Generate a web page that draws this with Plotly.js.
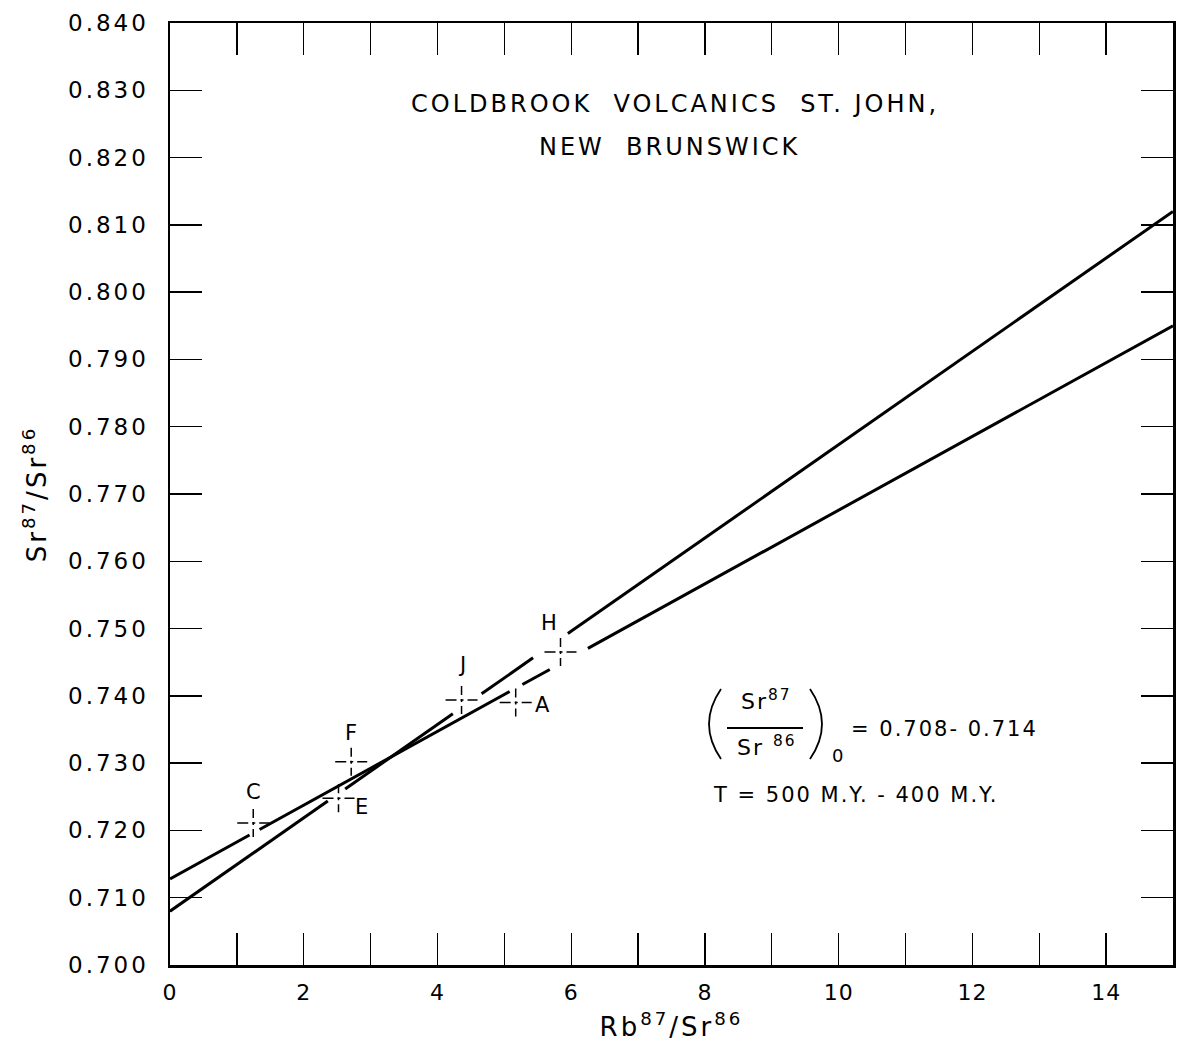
<!DOCTYPE html>
<html>
<head>
<meta charset="utf-8">
<script src="https://cdn.plot.ly/plotly-3.0.1.min.js"></script>
<style>
html,body{margin:0;padding:0;background:#fff;}
#chart{width:1180px;height:1049px;}
.ytick text{letter-spacing:3px;}
.xtick text{letter-spacing:1px;}
</style>
</head>
<body>
<div id="chart"></div>
<script>
// ---- data ----
const sampleNames = ['C', 'E', 'F', 'J', 'A', 'H'];
const rbSr = [1.245, 2.52, 2.71, 4.36, 5.17, 5.84];
const srSr = [0.7211, 0.7248, 0.7302, 0.7394, 0.7390, 0.7465];

// isochron lines (end points at x = 0 and x = 15)
const fitX = [0, 15];
const fitSteep = [0.708, 0.812];     // 500 M.Y., initial 0.708
const fitShallow = [0.7128, 0.795];  // 400 M.Y., initial ~0.713
// drafting breaks in the lines around the plotted crosses (x ranges)
const steepGaps = [[2.36, 2.62], [4.23, 4.66], [5.43, 5.95]];
const shallowGaps = [[1.19, 1.34], [5.08, 5.27], [5.68, 6.25]];

const xTickVals = [0, 2, 4, 6, 8, 10, 12, 14];
const xTickText = ['0', '2', '4', '6', '8', '10', '12', '14'];
const yTickVals = [0.700, 0.710, 0.720, 0.730, 0.740, 0.750, 0.760, 0.770, 0.780, 0.790, 0.800, 0.810, 0.820, 0.830, 0.840];
const yTickText = ['0.700', '0.710', '0.720', '0.730', '0.740', '0.750', '0.760', '0.770', '0.780', '0.790', '0.800', '0.810', '0.820', '0.830', '0.840'];

// ---- styling / geometry ----
const W = 1180, H = 1049;
const M = {l: 170, r: 7, t: 23, b: 84};
const PW = W - M.l - M.r, PH = H - M.t - M.b;
const xRange = [0, 15], yRange = [0.700, 0.840];
const xPerPx = (xRange[1] - xRange[0]) / PW;
const yPerPx = (yRange[1] - yRange[0]) / PH;
const px = (x) => (x - M.l) / PW;             // page pixel -> paper x
const py = (y) => (H - M.b - y) / PH;         // page pixel -> paper y

const labelDx = [0, 23, 0, 0, 27, -12];
const labelDy = [31, -9, 29, 35, -2, 29];
const FONT = '"DejaVu Sans", "Liberation Sans", sans-serif';

function brokenLine(ends, gaps) {
  const f = (x) => ends[0] + (ends[1] - ends[0]) * (x - fitX[0]) / (fitX[1] - fitX[0]);
  const xs = [], ys = [];
  let start = fitX[0];
  gaps.forEach(g => {
    xs.push(start, g[0], null); ys.push(f(start), f(g[0]), null);
    start = g[1];
  });
  xs.push(start, fitX[1]); ys.push(f(start), f(fitX[1]));
  return {x: xs, y: ys};
}

const steep = brokenLine(fitSteep, steepGaps);
const shallow = brokenLine(fitShallow, shallowGaps);

// cross arms
const hx = 16 * xPerPx, hy = 14 * yPerPx;
const hArmX = [], hArmY = [], vArmX = [], vArmY = [];
rbSr.forEach((x, i) => {
  const y = srSr[i];
  hArmX.push(x - hx, x + hx, null); hArmY.push(y, y, null);
  vArmX.push(x, x, null); vArmY.push(y + hy, y - hy, null);
});

const traces = [
  {x: steep.x, y: steep.y, mode: 'lines', line: {color: '#000', width: 3}, hoverinfo: 'skip', name: '500 M.Y.'},
  {x: shallow.x, y: shallow.y, mode: 'lines', line: {color: '#000', width: 3}, hoverinfo: 'skip', name: '400 M.Y.'},
  {x: hArmX, y: hArmY, mode: 'lines', line: {color: '#000', width: 1.5, dash: '11px,4px,3px,4px,11px'}, hoverinfo: 'skip'},
  {x: vArmX, y: vArmY, mode: 'lines', line: {color: '#000', width: 1.5, dash: '9px,4px,3px,4px,9px'}, hoverinfo: 'skip'},
  {x: rbSr, y: srSr, mode: 'markers', marker: {size: 1, color: 'rgba(0,0,0,0)'}, text: sampleNames, hoverinfo: 'text+x+y'}
];

const annotations = sampleNames.map((n, i) => ({
  x: rbSr[i], y: srSr[i], xref: 'x', yref: 'y', text: n, showarrow: false,
  xanchor: 'center', yanchor: 'middle',
  xshift: labelDx[i], yshift: labelDy[i], font: {family: FONT, size: 21, color: '#000'}
}));

const titleFont = {family: FONT, size: 24, color: '#000'};
const fF = {family: FONT, size: 22, color: '#000'};
function note(x, y, text, font, xa) {
  return {xref: 'paper', yref: 'paper', x: px(x), y: py(y), xanchor: xa || 'center', yanchor: 'middle',
          showarrow: false, font: font, text: text};
}
annotations.push(
  note(675, 104, '<span style="letter-spacing:3px">COLDBROOK  VOLCANICS  ST. JOHN,</span>', titleFont),
  note(669, 147, '<span style="letter-spacing:3px">NEW  BRUNSWICK</span>', titleFont),
  note(766, 700, '<span style="letter-spacing:2px">Sr<sup>87</sup></span>', fF),
  note(767, 746, '<span style="letter-spacing:2px">Sr <sup>86</sup></span>', fF),
  note(837, 756, '0', {family: FONT, size: 18, color: '#000'}),
  note(849, 729, '<span style="letter-spacing:2px">= 0.708- 0.714</span>', {family: FONT, size: 21, color: '#000'}, 'left'),
  note(711, 795, '<span style="letter-spacing:2px">T = 500 M.Y. - 400 M.Y.</span>', {family: FONT, size: 21, color: '#000'}, 'left')
);

const P = (a, b) => px(a) + ' ' + py(b);
const shapes = [
  {type: 'path', xref: 'paper', yref: 'paper', path: 'M ' + P(721, 689) + ' Q ' + P(697, 724) + ' ' + P(721, 759),
   line: {color: '#000', width: 1.8}},
  {type: 'path', xref: 'paper', yref: 'paper', path: 'M ' + P(810, 689) + ' Q ' + P(834, 724) + ' ' + P(810, 759),
   line: {color: '#000', width: 1.8}},
  {type: 'line', xref: 'paper', yref: 'paper', x0: px(727), x1: px(803), y0: py(728), y1: py(728),
   line: {color: '#000', width: 1.8}}
];

const axisCommon = {
  showline: true, linecolor: '#000', linewidth: 2.5, mirror: 'ticks',
  ticks: 'inside', ticklen: 32, tickwidth: 1.3, tickcolor: '#000',
  showgrid: false, zeroline: false, automargin: false, fixedrange: true
};

const layout = {
  width: W, height: H,
  margin: M,
  paper_bgcolor: '#fff', plot_bgcolor: '#fff',
  showlegend: false,
  font: {family: FONT, color: '#000'},
  xaxis: Object.assign({}, axisCommon, {
    range: xRange, tickmode: 'array', tickvals: xTickVals, ticktext: xTickText,
    minor: {dtick: 1, tick0: 0, ticks: 'inside', ticklen: 32, tickwidth: 1.3, tickcolor: '#000', showgrid: false},
    tickfont: {family: FONT, size: 22, color: '#000'}, ticklabelstandoff: 6,
    title: {text: '<span style="letter-spacing:3px">Rb<sup>87</sup>/Sr<sup>86</sup></span>',
            font: {family: FONT, size: 26, color: '#000'}, standoff: 14}
  }),
  yaxis: Object.assign({}, axisCommon, {
    range: yRange, tickmode: 'array', tickvals: yTickVals, ticktext: yTickText,
    tickfont: {family: FONT, size: 23, color: '#000'}, ticklabelstandoff: 14,
    title: {text: '<span style="letter-spacing:3px">Sr<sup>87</sup>/Sr<sup>86</sup></span>',
            font: {family: FONT, size: 26, color: '#000'}, standoff: 14}
  }),
  annotations: annotations,
  shapes: shapes
};

Plotly.newPlot('chart', traces, layout, {displayModeBar: false, staticPlot: true});
</script>
</body>
</html>
